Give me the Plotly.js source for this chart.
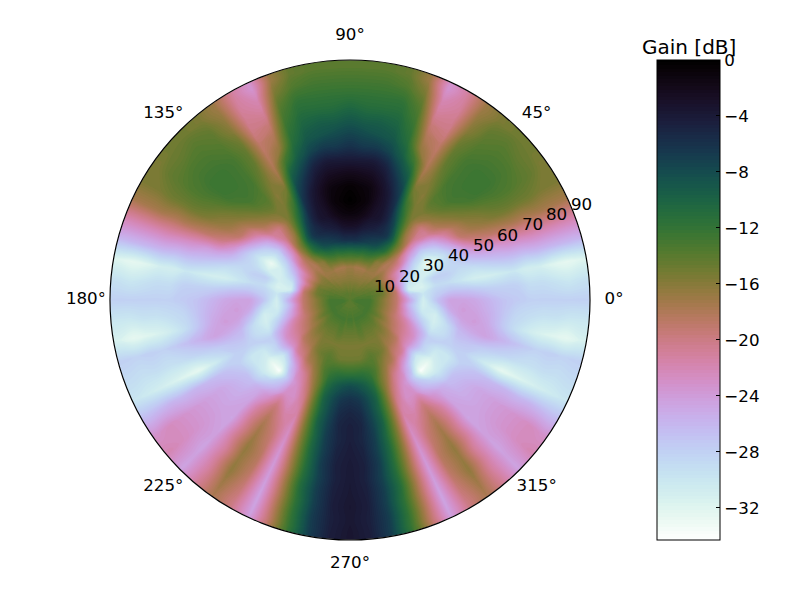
<!DOCTYPE html>
<html>
<head>
<meta charset="utf-8">
<script src="https://cdn.plot.ly/plotly-3.0.1.min.js"></script>
<style>html,body{margin:0;padding:0;background:#fff}</style>
</head>
<body>
<div id="chart" style="width:800px;height:600px"></div>
<script>
// radius of each column of gainRows, in degrees off boresight
var rings = [2.5,7.5,12.5,17.5,22.5,27.5,32.5,37.5,42.5,47.5,52.5,57.5,62.5,67.5,72.5,77.5,82.5,87.5];
var radialTicks = [10,20,30,40,50,60,70,80,90];
var angleTicks = [0,45,90,135,180,225,270,315];
var gainTicks = [0,-4,-8,-12,-16,-20,-24,-28,-32];
var centerGain = -14;

// right half of the pattern, azimuth 90 down to -90, the left half mirrors it
var azimuths = [90,85,80,75,70,65,60,55,50,45,40,35,30,25,20,15,10,5,0,-5,-10,-15,-20,-25,-30,-35,-40,-45,-50,-55,-60,-65,-70,-75,-80,-85,-90];
var gainRows = [
[-14,-16,-17,-12,-6,-3,-1,0,-0.5,-2,-4,-6,-7.5,-9,-10.5,-12,-13,-14],
[-14.5,-16,-17,-12,-6,-3.2,-1.2,-0.5,-0.8,-2.2,-4,-6.5,-8,-9.5,-11,-12,-13,-14],
[-14.5,-16,-17.5,-12,-6.5,-4,-2,-1,-1.2,-2.5,-4,-6.5,-8.5,-9.5,-11,-12,-13,-14],
[-14,-16,-17.5,-12.5,-7,-4.5,-3,-2.5,-2.5,-3.5,-5,-7.5,-9,-10,-11,-12,-13.5,-14.5],
[-14,-16,-17.5,-12.5,-7.5,-5,-3.5,-3.5,-4,-5.5,-7.5,-9.5,-11,-12,-13,-14,-15.5,-17],
[-14,-16,-17.5,-13,-8,-5.5,-5,-5.5,-6.5,-8,-10,-13,-16.5,-18,-19.5,-21,-22,-23.5],
[-14,-16,-17,-14,-9.5,-6.5,-7.5,-10,-12.5,-15,-17,-18,-18.5,-19,-20,-20.5,-21,-21],
[-14,-16,-17,-16,-11,-9.5,-12,-14,-15.5,-16,-15.5,-15,-14.5,-14.5,-15,-16,-16.5,-17],
[-14,-15.5,-17,-16.5,-14,-14,-16.5,-17,-15.5,-14,-13.5,-13,-13,-13,-13.5,-14,-14.5,-15.5],
[-14,-15.5,-17,-18,-17,-17,-19,-20,-16.5,-14.5,-13,-12.7,-12.5,-12.5,-13,-13.5,-14,-15],
[-14,-15,-16,-18,-19,-22,-23,-21,-18,-16,-14.5,-13,-12.5,-12.5,-13,-13.5,-14.5,-15],
[-14,-15,-16,-19,-21,-25,-27,-25,-21,-18,-16,-15,-14,-13.5,-13.5,-14,-14.5,-15.5],
[-14,-14.5,-16,-20,-24,-28,-30,-28,-24,-19,-17.5,-16.5,-15.5,-15,-15,-15,-15.5,-15.5],
[-14,-14.5,-15.5,-20,-26,-30,-33,-30,-27,-23,-20,-19,-18.5,-18,-18,-17.5,-17.5,-17.5],
[-13.5,-14,-15,-21,-28,-31,-31,-29,-28,-26,-24.5,-24,-23,-22.5,-22,-22,-22,-22],
[-13.5,-14,-15,-20,-30,-31,-28,-28,-29,-29,-28,-27,-26.5,-26.5,-26,-26,-26,-26],
[-13.5,-13.5,-15,-19,-31,-31.5,-29,-29,-30,-31,-31,-30.5,-30,-31,-31,-32,-32.5,-32],
[-13.5,-13.5,-15.5,-19,-27,-30,-28,-27,-27,-27.5,-28,-28,-28,-29,-29,-29.5,-30,-29.5],
[-13,-13,-16,-19,-25,-31,-27,-24.5,-24.5,-25,-26,-27,-27.5,-28,-28,-28,-28,-28],
[-13,-13,-16,-19,-26,-31,-29,-25,-24,-24.5,-25.5,-27,-28.5,-29,-29.5,-29.5,-30,-30],
[-13,-13,-16,-19,-25,-30,-31,-27,-24.5,-24,-25,-27,-29,-30.5,-31.5,-32,-32.5,-31.5],
[-13,-13,-16,-19,-24,-28,-31,-29,-26,-25,-24.5,-25.5,-26.5,-27.4,-28.1,-27.9,-28.2,-28],
[-13,-13,-16,-19,-22,-26,-30,-29,-27,-27,-27.5,-28,-28.5,-29.1,-29.3,-29,-29.2,-28.9],
[-13.5,-13,-15.5,-18.5,-21,-24,-28,-28,-28,-28,-29.5,-31,-32.5,-32,-31.5,-31,-30.5,-30],
[-13.5,-13,-15,-18,-20.5,-23,-28,-30,-30,-28,-27,-26.5,-26.2,-25.9,-26.1,-25.8,-26.1,-26.4],
[-13.5,-13,-15.5,-17.5,-20,-23,-28,-31,-30,-27,-26,-25,-24.5,-24,-23.5,-23,-22.5,-23],
[-13.5,-13,-15,-16.5,-18.5,-23,-30,-33,-30,-26.5,-25.5,-25,-24.5,-24,-23.5,-23,-22.5,-22],
[-14,-13,-14.5,-16,-18,-21,-28,-34,-28,-25,-24.6,-24.35,-24.65,-24.45,-24.3,-24.6,-24.4,-24.55],
[-14,-13,-14.5,-16,-17.5,-20,-25,-28,-26,-23,-21,-20.5,-20.6,-20.4,-21,-20.8,-21.1,-20.9],
[-14,-13,-14.5,-15.5,-16,-18,-22,-24,-23,-20,-18.5,-17.5,-17,-16.5,-16.6,-16.4,-17,-17.5],
[-14,-13,-14.5,-15.5,-15,-17,-20,-22,-23,-22,-20.5,-19.5,-19,-18.5,-18.6,-19,-19.5,-20],
[-14,-13,-14.5,-15.5,-14.5,-15.5,-17,-19,-20.5,-21.5,-22.5,-23,-23.5,-23.9,-24.1,-24.4,-24.6,-24.5],
[-14,-13,-14,-15.5,-14,-13.5,-14.5,-14.6,-15,-15.5,-16,-16.5,-17,-17.5,-17.6,-18,-18.1,-18.5],
[-14,-13,-14,-15.5,-14.5,-12.5,-11,-10,-10.1,-9.9,-10.5,-10.6,-11,-11.1,-10.9,-11.5,-11.6,-12],
[-14,-13.5,-14.5,-15.5,-15,-12,-9.5,-8,-7.5,-7.1,-6.9,-7,-6.8,-7.1,-6.9,-7,-6.8,-6.9],
[-14,-13,-14.5,-15.5,-15,-12,-8.5,-6.5,-5.5,-5,-5.1,-4.8,-4.6,-4.7,-4.5,-4.4,-4.5,-4.4],
[-14,-13,-14.5,-15.5,-15,-12,-8,-6,-5,-4.5,-4.4,-4.2,-4,-3.9,-3.8,-3.6,-3.7,-3.5]
];

var gainMin = -34.3;
var gainMax = 0;
// value of the hidden ring just past the rim, below every contour level
var hiddenGain = -40;

// matplotlib cubehelix, reversed so 0 dB is black
function cubehelixScale(n) {
  var scale = [];
  for (var i = 0; i <= n; i++) {
    var p = i / n;
    var x = 1 - p;
    var a = x * (1 - x) / 2;
    var phi = 2 * Math.PI * (0.5 / 3 - 1.5 * x);
    var c = Math.cos(phi), s = Math.sin(phi);
    var red = x + a * (-0.14861 * c + 1.78277 * s);
    var green = x + a * (-0.29227 * c - 0.90649 * s);
    var blue = x + a * (1.97294 * c);
    scale.push([p, 'rgb(' + [red, green, blue].map(function(v) {
      return Math.round(255 * Math.min(1, Math.max(0, v)));
    }).join(',') + ')']);
  }
  return scale;
}

function polarX(r, t) { return r * Math.cos(t * Math.PI / 180); }
function polarY(r, t) { return r * Math.sin(t * Math.PI / 180); }

// carpet runs from -90 through 0 and 180 back round to 270, left half mirrored
var rowOrder = [];
for (var i = azimuths.length - 1; i >= 0; i--) rowOrder.push({angle: azimuths[i], row: gainRows[i]});
for (var k = 1; k < azimuths.length; k++) rowOrder.push({angle: 180 - azimuths[k], row: gainRows[k]});

// contours crossing the carpet edge leave slivers in the fill, so close them in a ring past the rim
var radii = [0].concat(rings, [90, 91]);
var carpetA = rowOrder.map(function(d) { return d.angle; });
var carpetX = radii.map(function(r) {
  return carpetA.map(function(t) { return polarX(r, t); });
});
var carpetY = radii.map(function(r) {
  return carpetA.map(function(t) { return polarY(r, t); });
});
var gainZ = radii.map(function(r, j) {
  return rowOrder.map(function(d) {
    if (j === 0) return centerGain;
    if (r === 91) return hiddenGain;
    if (r === 90) return d.row[d.row.length - 1];
    return d.row[j - 1];
  });
});

var labelFont = {family: 'DejaVu Sans', size: 16.7, color: 'black'};
var hiddenAxis = {showgrid: false, showticklabels: 'none', startline: false, endline: false, minorgridcount: 0, linewidth: 0, ticks: ''};

var data = [{
  type: 'carpet',
  carpet: 'mesh',
  a: carpetA,
  b: radii,
  x: carpetX,
  y: carpetY,
  aaxis: hiddenAxis,
  baxis: hiddenAxis,
  hoverinfo: 'skip'
}, {
  type: 'contourcarpet',
  carpet: 'mesh',
  a: carpetA,
  b: radii,
  z: gainZ,
  autocontour: false,
  contours: {start: -34.375, end: 0.125, size: 0.25, coloring: 'fill', showlines: false},
  line: {width: 0},
  zmin: gainMin,
  zmax: gainMax,
  colorscale: cubehelixScale(64),
  hoverinfo: 'skip',
  colorbar: {
    x: 657 / 800,
    xanchor: 'left',
    y: 0.5,
    yanchor: 'middle',
    xpad: 0,
    ypad: 0,
    thickness: 63,
    thicknessmode: 'pixels',
    len: 480,
    lenmode: 'pixels',
    outlinewidth: 1,
    outlinecolor: 'black',
    tickmode: 'array',
    tickvals: gainTicks,
    ticks: 'inside',
    ticklen: 4,
    tickcolor: 'black',
    tickfont: labelFont
  }
}, {
  type: 'scatter',
  mode: 'text',
  x: angleTicks.map(function(v) { return polarX(99, v); }),
  y: angleTicks.map(function(v) { return polarY(99, v); }),
  text: angleTicks.map(function(v) { return v + '°'; }),
  textposition: 'middle center',
  textfont: labelFont,
  cliponaxis: false,
  hoverinfo: 'skip'
}];

// radial labels sit just past their radius along the 22.5 degree line,
// as annotations so the white ring does not cut the 90
var radialAnnotations = radialTicks.map(function(v) {
  return {
    text: String(v),
    xref: 'x',
    yref: 'y',
    x: polarX(v + 4, 22.5),
    y: polarY(v + 4, 22.5),
    xanchor: 'center',
    yanchor: 'middle',
    showarrow: false,
    font: labelFont
  };
});

// axes reach past the rim so the angle labels stay in range, 8/3 px per degree
var layout = {
  width: 800,
  height: 600,
  paper_bgcolor: 'white',
  plot_bgcolor: 'white',
  showlegend: false,
  margin: {l: 0, r: 0, t: 0, b: 0, autoexpand: false},
  font: labelFont,
  xaxis: {domain: [56.67 / 800, 643.33 / 800], range: [-110, 110], visible: false, fixedrange: true},
  yaxis: {domain: [6.67 / 600, 593.33 / 600], range: [-110, 110], visible: false, fixedrange: true},
  shapes: [{
    // white ring over the hidden part of the mesh
    type: 'circle',
    xref: 'x',
    yref: 'y',
    x0: -91,
    x1: 91,
    y0: -91,
    y1: 91,
    line: {color: 'white', width: 6},
    layer: 'above'
  }, {
    type: 'circle',
    xref: 'x',
    yref: 'y',
    x0: -90,
    x1: 90,
    y0: -90,
    y1: 90,
    line: {color: 'black', width: 1.2},
    layer: 'above'
  }],
  annotations: radialAnnotations.concat([{
    text: 'Gain [dB]',
    xref: 'paper',
    yref: 'paper',
    x: 689 / 800,
    y: 553 / 600,
    xanchor: 'center',
    yanchor: 'middle',
    showarrow: false,
    font: {family: 'DejaVu Sans', size: 20, color: 'black'}
  }])
};

Plotly.newPlot('chart', data, layout, {displayModeBar: false});
</script>
</body>
</html>
